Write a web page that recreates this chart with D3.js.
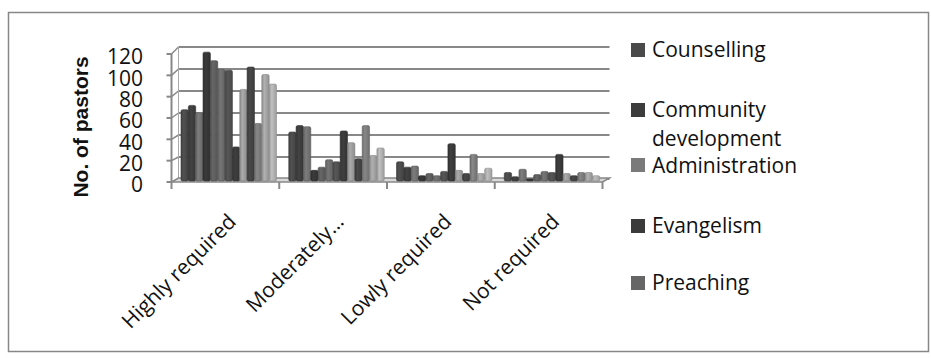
<!DOCTYPE html>
<html>
<head>
<meta charset="utf-8">
<script src="https://cdn.jsdelivr.net/npm/d3@7"></script>
<style>
  body { margin: 0; background: #fff; }
  text { font-family: "Open Sans", "DejaVu Sans", sans-serif; fill: #111; }
</style>
</head>
<body>
<div id="chart"></div>
<script>
const width = 931
const height = 358

// categories on the x axis
const categories = ["Highly required", "Moderately…", "Lowly required", "Not required"]
// only the first five series are named in the (cut off) legend
const legendNames = ["Counselling", "Community development", "Administration", "Evangelism", "Preaching"]
// one row per category, 13 series per row
const highlyValues = [67, 71, 64, 121, 113, 105, 104, 32, 86, 107, 54, 100, 91]
const moderatelyValues = [46, 52, 51, 10, 13, 20, 18, 47, 36, 21, 52, 24, 31]
const lowlyValues = [18, 13, 14, 5, 7, 5, 9, 35, 10, 7, 25, 7, 12]
const notValues = [8, 4, 11, 2, 6, 9, 8, 25, 7, 5, 8, 8, 5]
const yTicks = [0, 20, 40, 60, 80, 100, 120]

const rows = [highlyValues, moderatelyValues, lowlyValues, notValues]
const seriesColors = ["#4a4a4a", "#3d3d3d", "#727272", "#363636", "#5e5e5e", "#6c6c6c", "#505050",
    "#3a3a3a", "#9c9c9c", "#434343", "#7c7c7c", "#a2a2a2", "#b0b0b0"]
const legendColors = ["#4a4a4a", "#3c3c3c", "#7a7a7a", "#3a3a3a", "#666666"]

const svg = d3.select("#chart")
    .append("svg")
    .attr("width", width)
    .attr("height", height)

// outer border
svg.append("rect")
    .attr("x", 8.5).attr("y", 12.5)
    .attr("width", 920).attr("height", 339)
    .attr("fill", "white")
    .attr("stroke", "#878787")
    .attr("stroke-width", 1.5)

const depthX = 7
const floorY = 182
const backFloorY = 179

const x0 = d3.scaleBand()
    .domain(categories)
    .range([171.5, 602.5])
const x1 = d3.scaleBand()
    .domain(d3.range(highlyValues.length))
    .range([9.5, 105])
const yFront = d3.scaleLinear().domain([0, 120]).range([floorY, 54])
const yBack = d3.scaleLinear().domain([0, 120]).range([backFloorY, 47])
const yBar = d3.scaleLinear().domain([0, 120]).range([181, 53.2])

const wallColor = "#888"

// back wall gridlines
svg.append("g")
    .selectAll("line")
    .data(yTicks)
    .join("line")
    .attr("x1", x0.range()[0] + depthX)
    .attr("x2", x0.range()[1] + depthX)
    .attr("y1", d => yBack(d))
    .attr("y2", d => yBack(d))
    .attr("stroke", wallColor)
    .attr("stroke-width", 2)

// side wall diagonals
svg.append("g")
    .selectAll("line")
    .data(yTicks)
    .join("line")
    .attr("x1", x0.range()[0])
    .attr("x2", x0.range()[0] + depthX)
    .attr("y1", d => yFront(d))
    .attr("y2", d => yBack(d))
    .attr("stroke", wallColor)
    .attr("stroke-width", 1.5)

svg.append("line")
    .attr("x1", x0.range()[0] + depthX).attr("x2", x0.range()[0] + depthX)
    .attr("y1", yBack(120)).attr("y2", yBack(0))
    .attr("stroke", "#aaa").attr("stroke-width", 1)

// floor
svg.append("path")
    .attr("d", `M${x0.range()[0]},${floorY} L${x0.range()[1]},${floorY} L${x0.range()[1] + depthX},${backFloorY - 1} L${x0.range()[0] + depthX},${backFloorY - 1} Z`)
    .attr("fill", "#d9d9d9")
    .attr("stroke", wallColor)
    .attr("stroke-width", 1.5)

// gradients for bar shading
const defs = svg.append("defs")
seriesColors.forEach((c, i) => {
    const g = defs.append("linearGradient")
        .attr("id", "bar-grad-" + i)
        .attr("x1", "0").attr("x2", "1").attr("y1", "0").attr("y2", "0")
    g.append("stop").attr("offset", "0%").attr("stop-color", d3.color(c).darker(0.4))
    g.append("stop").attr("offset", "35%").attr("stop-color", d3.color(c).brighter(0.25))
    g.append("stop").attr("offset", "100%").attr("stop-color", d3.color(c).darker(0.3))
})

// bars
const groups = svg.append("g")
    .selectAll("g")
    .data(rows)
    .join("g")
    .attr("transform", (d, i) => `translate(${x0(categories[i])},0)`)

groups.selectAll("rect")
    .data(d => d.map((v, j) => ({ v: v, j: j })))
    .join("rect")
    .attr("x", d => x1(d.j))
    .attr("width", x1.bandwidth())
    .attr("y", d => yBar(d.v))
    .attr("height", d => yBar(0) - yBar(d.v))
    .attr("rx", 1.5)
    .attr("fill", d => `url(#bar-grad-${d.j})`)
    .attr("stroke", d => d3.color(seriesColors[d.j]).darker(0.6))
    .attr("stroke-width", 0.6)

// front value axis
svg.append("line")
    .attr("x1", x0.range()[0]).attr("x2", x0.range()[0])
    .attr("y1", yFront(120)).attr("y2", yFront(0))
    .attr("stroke", wallColor).attr("stroke-width", 2)

svg.append("g")
    .selectAll("line")
    .data(yTicks)
    .join("line")
    .attr("x1", x0.range()[0] - 5)
    .attr("x2", x0.range()[0])
    .attr("y1", d => yFront(d))
    .attr("y2", d => yFront(d))
    .attr("stroke", wallColor)
    .attr("stroke-width", 2)

svg.append("g")
    .selectAll("text")
    .data(yTicks)
    .join("text")
    .attr("x", 143)
    .attr("y", d => yFront(d) + 3)
    .attr("dy", "0.35em")
    .attr("text-anchor", "end")
    .style("font-size", "21px")
    .text(d => d)

// category ticks
const tickXs = categories.map(c => x0(c)).concat([x0.range()[1]])
svg.append("g")
    .selectAll("line")
    .data(tickXs)
    .join("line")
    .attr("x1", d => d).attr("x2", d => d)
    .attr("y1", floorY).attr("y2", floorY + 7)
    .attr("stroke", wallColor)
    .attr("stroke-width", 2)

// category labels
svg.append("g")
    .selectAll("text")
    .data(categories)
    .join("text")
    .attr("transform", d => `translate(${x0(d) + x0.bandwidth() / 2 + 12},${223}) rotate(-45)`)
    .attr("text-anchor", "end")
    .style("font-size", "21px")
    .text(d => d)

// y axis title
svg.append("text")
    .attr("transform", `translate(88,${127}) rotate(-90)`)
    .attr("text-anchor", "middle")
    .style("font-family", "'Liberation Sans', Arial, sans-serif")
    .style("font-weight", "bold")
    .style("font-size", "21px")
    .text("No. of pastors")

// legend
const legendSquareY = [43, 103, 158, 219, 276]
const legendBaselines = [[57], [117, 146], [173], [233], [290]]
const legendLines = [["Counselling"], ["Community", "development"], ["Administration"], ["Evangelism"], ["Preaching"]]
const legend = svg.append("g")
legendNames.forEach((name, i) => {
    legend.append("rect")
        .attr("x", 631)
        .attr("y", legendSquareY[i])
        .attr("width", 14)
        .attr("height", 14)
        .attr("fill", legendColors[i])
    legendLines[i].forEach((line, k) => {
        legend.append("text")
            .attr("x", 652)
            .attr("y", legendBaselines[i][k])
            .style("font-size", "21px")
            .text(line)
    })
})
</script>
</body>
</html>
